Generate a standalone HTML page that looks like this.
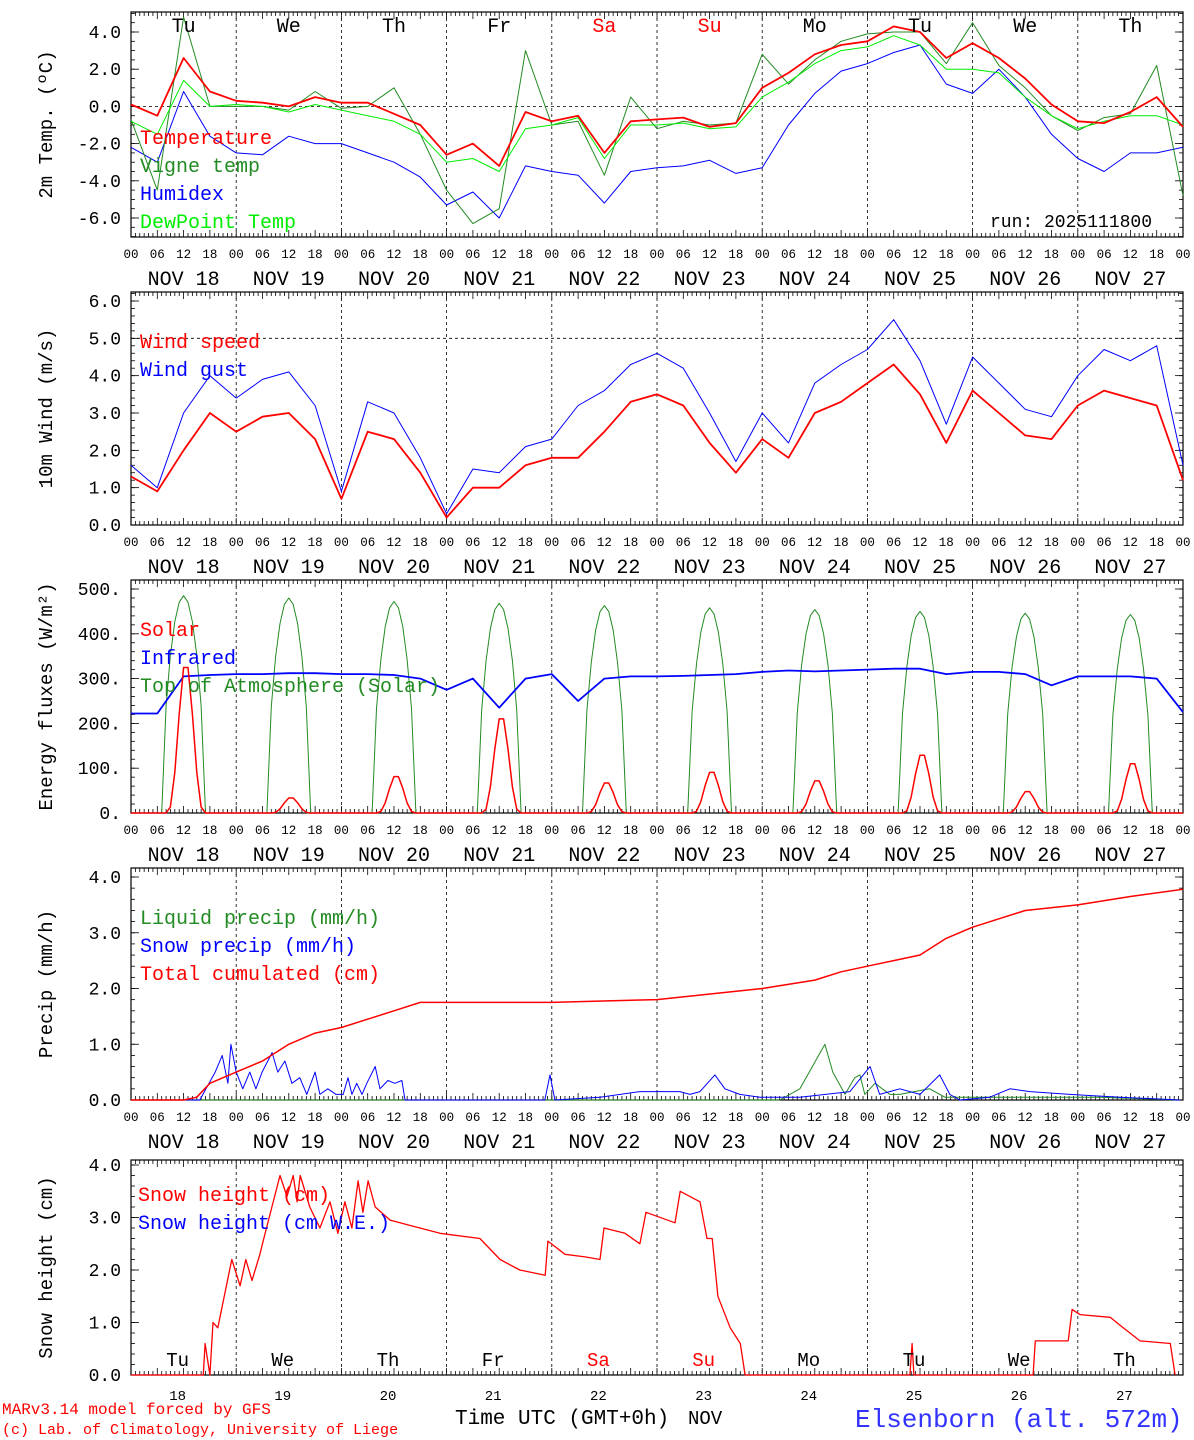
<!DOCTYPE html>
<html><head><meta charset="utf-8"><style>
html,body{margin:0;padding:0;background:#fff;}
svg{display:block;font-family:"Liberation Mono",monospace;}
</style></head><body>
<svg id="c" width="1194" height="1440" xmlns="http://www.w3.org/2000/svg"></svg>
<script>
// ---------- DATA ----------
const dayAbbr=["Tu","We","Th","Fr","Sa","Su","Mo","Tu","We","Th"];
const dayNums=["18","19","20","21","22","23","24","25","26","27"];
const hours6=[0,6,12,18,24,30,36,42,48,54,60,66,72,78,84,90,96,102,108,114,120,126,132,138,144,150,156,162,168,174,180,186,192,198,204,210,216,222,228,234,240];
const tempVals=[0.1,-0.5,2.6,0.8,0.3,0.2,0.0,0.5,0.2,0.2,-0.4,-1.0,-2.6,-2.0,-3.2,-0.3,-0.8,-0.5,-2.5,-0.8,-0.7,-0.6,-1.1,-0.9,1.0,1.8,2.8,3.3,3.5,4.3,4.0,2.6,3.4,2.6,1.5,0.1,-0.8,-0.9,-0.3,0.5,-1.1];
const vigneVals=[-0.7,-4.5,4.8,0.0,0.0,0.0,-0.2,0.8,-0.1,0.0,1.0,-1.5,-4.5,-6.3,-5.5,3.0,-1.0,-0.8,-3.7,0.5,-1.2,-0.8,-1.0,-0.9,2.8,1.2,2.5,3.5,3.9,4.0,4.0,2.3,4.5,2.2,1.0,-0.5,-1.3,-0.6,-0.4,2.2,-4.8];
const humidexVals=[-2.2,-3.0,0.8,-1.6,-2.5,-2.6,-1.6,-2.0,-2.0,-2.5,-3.0,-3.8,-5.3,-4.6,-6.0,-3.2,-3.5,-3.7,-5.2,-3.5,-3.3,-3.2,-2.9,-3.6,-3.3,-1.0,0.7,1.9,2.3,2.9,3.3,1.2,0.7,2.0,0.5,-1.5,-2.8,-3.5,-2.5,-2.5,-2.2];
const dewVals=[-0.8,-1.5,1.4,0.0,0.1,0.0,-0.3,0.1,-0.2,-0.5,-0.8,-1.5,-3.0,-2.8,-3.5,-1.2,-1.0,-0.6,-2.8,-1.0,-1.0,-0.9,-1.2,-1.1,0.5,1.3,2.3,3.0,3.2,3.8,3.3,2.0,2.0,1.8,0.5,-0.5,-1.2,-0.8,-0.5,-0.5,-1.0];
const windVals=[1.3,0.9,2.0,3.0,2.5,2.9,3.0,2.3,0.7,2.5,2.3,1.4,0.2,1.0,1.0,1.6,1.8,1.8,2.5,3.3,3.5,3.2,2.2,1.4,2.3,1.8,3.0,3.3,3.8,4.3,3.5,2.2,3.6,3.0,2.4,2.3,3.2,3.6,3.4,3.2,1.2];
const gustVals=[1.6,1.0,3.0,4.0,3.4,3.9,4.1,3.2,0.9,3.3,3.0,1.8,0.3,1.5,1.4,2.1,2.3,3.2,3.6,4.3,4.6,4.2,3.0,1.7,3.0,2.2,3.8,4.3,4.7,5.5,4.4,2.7,4.5,3.8,3.1,2.9,4.0,4.7,4.4,4.8,1.6];
const irVals=[222,222,305,308,310,310,312,312,310,310,308,300,275,300,235,300,310,250,300,305,305,306,308,310,315,318,316,318,320,322,322,310,315,315,310,285,305,305,305,300,225];
const solarPeaks=[340,35,85,220,70,95,75,135,50,115];
const toaPeaks=[485,480,472,468,463,458,454,450,446,443];
const cumHours=[0,12,15,18,24,30,36,42,48,54,60,66,72,96,120,144,156,162,168,174,180,186,192,198,204,216,228,240];
const cumVals=[0,0,0.05,0.3,0.5,0.7,1.0,1.2,1.3,1.45,1.6,1.75,1.75,1.75,1.8,2.0,2.15,2.3,2.4,2.5,2.6,2.9,3.1,3.25,3.4,3.5,3.65,3.78];
const snowPHours=[0,15.7,19.2,20.8,22.1,22.8,24.0,25.5,27.1,28.5,29.9,32.2,33.5,35.1,36.7,38.5,40.1,42.0,43.1,44.9,46.8,48.4,49.5,50.4,51.5,52.7,53.8,55.7,56.8,58.6,60.2,61.8,62.5,94.4,95.6,96.7,107,116.1,125.2,127.5,129.8,133.2,135.5,138.9,143.5,152.6,164,168.6,170.8,175.4,180,184.5,186.8,189.1,195.9,200.5,205.1,214.2,225.6,239.3];
const snowPVals=[0,0,0.5,0.8,0.3,1.0,0.5,0.2,0.5,0.2,0.5,0.85,0.5,0.7,0.3,0.4,0.1,0.5,0.1,0.2,0.1,0.1,0.4,0.1,0.3,0.1,0.3,0.6,0.2,0.35,0.3,0.35,0,0,0.45,0,0.05,0.15,0.15,0.1,0.15,0.45,0.2,0.1,0.05,0.05,0.15,0.6,0.1,0.2,0.1,0.45,0.1,0,0.05,0.2,0.15,0.1,0.05,0];
const liqHours=[0,148,152.6,158.3,160.1,162.9,165.1,166.3,167.4,169.7,173.1,175.4,182.2,185.7,198.2,221,239.3];
const liqVals=[0,0,0.2,1.0,0.5,0.1,0.4,0.45,0.1,0.3,0.1,0.1,0.2,0.05,0.05,0.05,0];
const snowHHours=[0,16.5,16.9,18.0,18.7,19.8,23.0,24.9,26.2,27.6,29.4,30.3,34.0,35.6,37.0,37.9,38.6,40.8,43.1,45.4,47.2,48.8,50.4,51.8,52.9,54.1,55.7,59.1,63.6,70.5,79.6,84.2,88.7,94.5,95.1,99.0,103.6,107.0,107.9,112.7,116.1,117.5,124.1,125.3,129.8,131.4,132.6,133.9,136.7,139.0,140.1,177.7,178.2,178.6,205.8,206.3,213.8,214.7,216.5,223.4,225.6,230.2,237.1,238.2];
const snowHVals=[0,0,0.6,0,1.0,0.9,2.2,1.7,2.2,1.8,2.3,2.6,3.8,3.4,3.8,3.3,3.8,3.2,2.8,3.3,2.7,3.3,2.8,3.7,3.1,3.7,3.2,2.95,2.85,2.7,2.6,2.2,2.0,1.9,2.55,2.3,2.25,2.2,2.8,2.7,2.5,3.1,2.9,3.5,3.3,2.6,2.6,1.5,0.9,0.6,0,0,0.6,0,0,0.65,0.65,1.25,1.15,1.1,0.95,0.65,0.6,0];

// ---------- DRAWING ----------
const svg=document.getElementById('c');
const NS="http://www.w3.org/2000/svg";
const X0=131,X1=1183;
const xs=h=>X0+h*(X1-X0)/240;
function mk(tag,attrs,parent){const e=document.createElementNS(NS,tag);for(const k in attrs)e.setAttribute(k,attrs[k]);(parent||svg).appendChild(e);return e;}
function txt(s,x,y,size,fill,anchor,parent){const t=mk('text',{x:x,y:y,'font-size':size,fill:fill||'#000','text-anchor':anchor||'start'},parent);t.textContent=s;return t;}
function yScale(v1,p1,v2,p2){return v=>p1+(v-v1)*(p2-p1)/(v2-v1);}
function poly(hs,vs,ys,color,w,name,g){
  const pts=hs.map((h,i)=>xs(h).toFixed(1)+','+ys(vs[i]).toFixed(1)).join(' ');
  const p=mk('polyline',{points:pts,fill:'none',stroke:color,'stroke-width':w,'stroke-linejoin':'round'},g);
  
  
  return p;
}
function frame(top,bot,name,hourLabels){
  const g=mk('g',{});
  
  
  mk('rect',{x:X0,y:top,width:X1-X0,height:bot-top,fill:'none',stroke:'#000','stroke-width':1.2},g);
  for(let h=0;h<=240;h++){
    const x=xs(h),L=(h%6==0)?7:4;
    mk('line',{x1:x,y1:top,x2:x,y2:top+L,stroke:'#000','stroke-width':0.8},g);
    mk('line',{x1:x,y1:bot,x2:x,y2:bot-L,stroke:'#000','stroke-width':0.8},g);
  }
  for(let d=1;d<10;d++){const x=xs(d*24);mk('line',{x1:x,y1:top,x2:x,y2:bot,stroke:'#000','stroke-width':0.8,'stroke-dasharray':'3,3'},g);}
  if(hourLabels){
    const hl=["00","06","12","18"];
    for(let h=0;h<=240;h+=6){const t=txt(hl[(h/6)%4],xs(h),bot+21,12.5,'#000','middle',g);
      }
    for(let d=0;d<10;d++){const t=txt('NOV '+dayNums[d],xs(d*24+12),bot+48,20,'#000','middle',g);
      }
  }
  return g;
}
function yAxis(g,ys,ticks,labels,minorStep,vmin,vmax,top,bot,title){
  for(let v=vmin;v<=vmax+1e-9;v+=minorStep){const y=ys(v);if(y<top-0.5||y>bot+0.5)continue;
    mk('line',{x1:X0,y1:y,x2:X0+4,y2:y,stroke:'#000','stroke-width':0.8},g);
    mk('line',{x1:X1,y1:y,x2:X1-4,y2:y,stroke:'#000','stroke-width':0.8},g);}
  ticks.forEach((v,i)=>{const y=ys(v);
    mk('line',{x1:X0,y1:y,x2:X0+8,y2:y,stroke:'#000','stroke-width':0.8},g);
    mk('line',{x1:X1,y1:y,x2:X1-8,y2:y,stroke:'#000','stroke-width':0.8},g);
    const t=txt(labels[i],121,y+6,18,'#000','end',g);
    });
  const cy=(top+bot)/2;
  const t=mk('text',{x:0,y:0,'font-size':19,'text-anchor':'middle',transform:`translate(52,${cy}) rotate(-90)`},g);
  t.textContent=title;
  
}
function legend(g,items,x,y0,dy){items.forEach((it,i)=>{const t=txt(it[0],x,y0+i*dy,20,it[1],'start',g);
  });}

// Panel 1: temperature
{const top=12,bot=237,ys=yScale(4,32,-6,218);const g=frame(top,bot,'temperature-panel',true);
 mk('line',{x1:X0,y1:ys(0),x2:X1,y2:ys(0),stroke:'#000','stroke-width':0.8,'stroke-dasharray':'3,3'},g);
 yAxis(g,ys,[4,2,0,-2,-4,-6],['4.0','2.0','0.0','-2.0','-4.0','-6.0'],0.5,-7,5,top,bot,'2m Temp. (ºC)');
 poly(hours6,humidexVals,ys,'#0000ff',1,'humidex-line',g);
 poly(hours6,vigneVals,ys,'#228b22',1,'vigne-temp-line',g);
 poly(hours6,dewVals,ys,'#00ee00',1,'dewpoint-line',g);
 poly(hours6,tempVals,ys,'#ff0000',1.8,'temperature-line',g);
 for(let d=0;d<10;d++){const t=txt(dayAbbr[d],xs(d*24+12),32,20,(d==4||d==5)?'#ff0000':'#000','middle',g);
   }
 legend(g,[['Temperature','#ff0000'],['Vigne temp','#228b22'],['Humidex','#0000ff'],['DewPoint Temp','#00ee00']],140,144,28);
 const r=txt('run: 2025111800',990,227,18,'#000','start',g);}

// Panel 2: wind
{const top=292,bot=525,ys=yScale(0,525,6,301);const g=frame(top,bot,'wind-panel',true);
 mk('line',{x1:X0,y1:ys(5),x2:X1,y2:ys(5),stroke:'#000','stroke-width':0.8,'stroke-dasharray':'3,3'},g);
 yAxis(g,ys,[0,1,2,3,4,5,6],['0.0','1.0','2.0','3.0','4.0','5.0','6.0'],0.2,0,6.2,top,bot,'10m Wind (m/s)');
 poly(hours6,gustVals,ys,'#0000ff',1,'wind-gust-line',g);
 poly(hours6,windVals,ys,'#ff0000',1.8,'wind-speed-line',g);
 legend(g,[['Wind speed','#ff0000'],['Wind gust','#0000ff']],140,348,28);}

// Panel 3: energy fluxes
{const top=580,bot=813,ys=yScale(0,813,500,589);const g=frame(top,bot,'energy-panel',true);
 yAxis(g,ys,[0,100,200,300,400,500],['0.','100.','200.','300.','400.','500.'],20,0,510,top,bot,'Energy fluxes (W/m²)');
 const th=[],tv=[],sh=[],sv=[];
 for(let d=0;d<10;d++){for(let h=0;h<24;h++){const t=d*24+h;
   th.push(t);const a=(h-7)/10;tv.push(a>0&&a<1?toaPeaks[d]*Math.pow(Math.sin(Math.PI*a),0.6):0);
   sh.push(t);const b=(h-8)/9;sv.push(b>0&&b<1?solarPeaks[d]*Math.pow(Math.sin(Math.PI*b),3):0);}}
 th.push(240);tv.push(0);sh.push(240);sv.push(0);
 poly(th,tv,ys,'#228b22',1,'toa-solar-line',g);
 poly(hours6,irVals,ys,'#0000ff',1.8,'infrared-line',g);
 poly(sh,sv,ys,'#ff0000',1.5,'solar-line',g);
 legend(g,[['Solar','#ff0000'],['Infrared','#0000ff'],['Top of Atmosphere (Solar)','#228b22']],140,636,28);}

// Panel 4: precip
{const top=868,bot=1100,ys=yScale(0,1100,4,877);const g=frame(top,bot,'precip-panel',true);
 yAxis(g,ys,[0,1,2,3,4],['0.0','1.0','2.0','3.0','4.0'],0.2,0,4,top,bot,'Precip (mm/h)');
 poly(liqHours,liqVals,ys,'#228b22',1,'liquid-precip-line',g);
 poly(snowPHours,snowPVals,ys,'#0000ff',1,'snow-precip-line',g);
 poly(cumHours,cumVals,ys,'#ff0000',1.5,'cumulated-precip-line',g);
 legend(g,[['Liquid precip (mm/h)','#228b22'],['Snow precip (mm/h)','#0000ff'],['Total cumulated (cm)','#ff0000']],140,924,28);}

// Panel 5: snow height
{const top=1160,bot=1375,ys=yScale(0,1375,4,1165);const g=frame(top,bot,'snow-panel',false);
 yAxis(g,ys,[0,1,2,3,4],['0.0','1.0','2.0','3.0','4.0'],0.2,0,4,top,bot,'Snow height (cm)');
 poly(snowHHours,snowHVals,ys,'#ff0000',1.3,'snow-height-line',g);
 legend(g,[['Snow height (cm)','#ff0000'],['Snow height (cm W.E.)','#0000ff']],138,1201,28);
 for(let d=0;d<10;d++){const t=txt(dayAbbr[d],xs(d*24+12)-6,1366,19,(d==4||d==5)?'#ff0000':'#000','middle',g);
   
   const n=txt(dayNums[d],xs(d*24+12)-6,1400,14,'#000','middle',g);
   }}

// Footer
{const a=txt('MARv3.14 model forced by GFS',2,1414,16,'#ff0000');
 const b=txt('(c) Lab. of Climatology, University of Liege',2,1434,15,'#ff0000');
 const c=txt('Time UTC (GMT+0h)',455,1424,21,'#000');
 const d=txt('NOV',688,1424,19,'#000');
 const e=txt('Elsenborn (alt. 572m)',855,1427,26,'#3333ff');}
</script>
</body></html>
